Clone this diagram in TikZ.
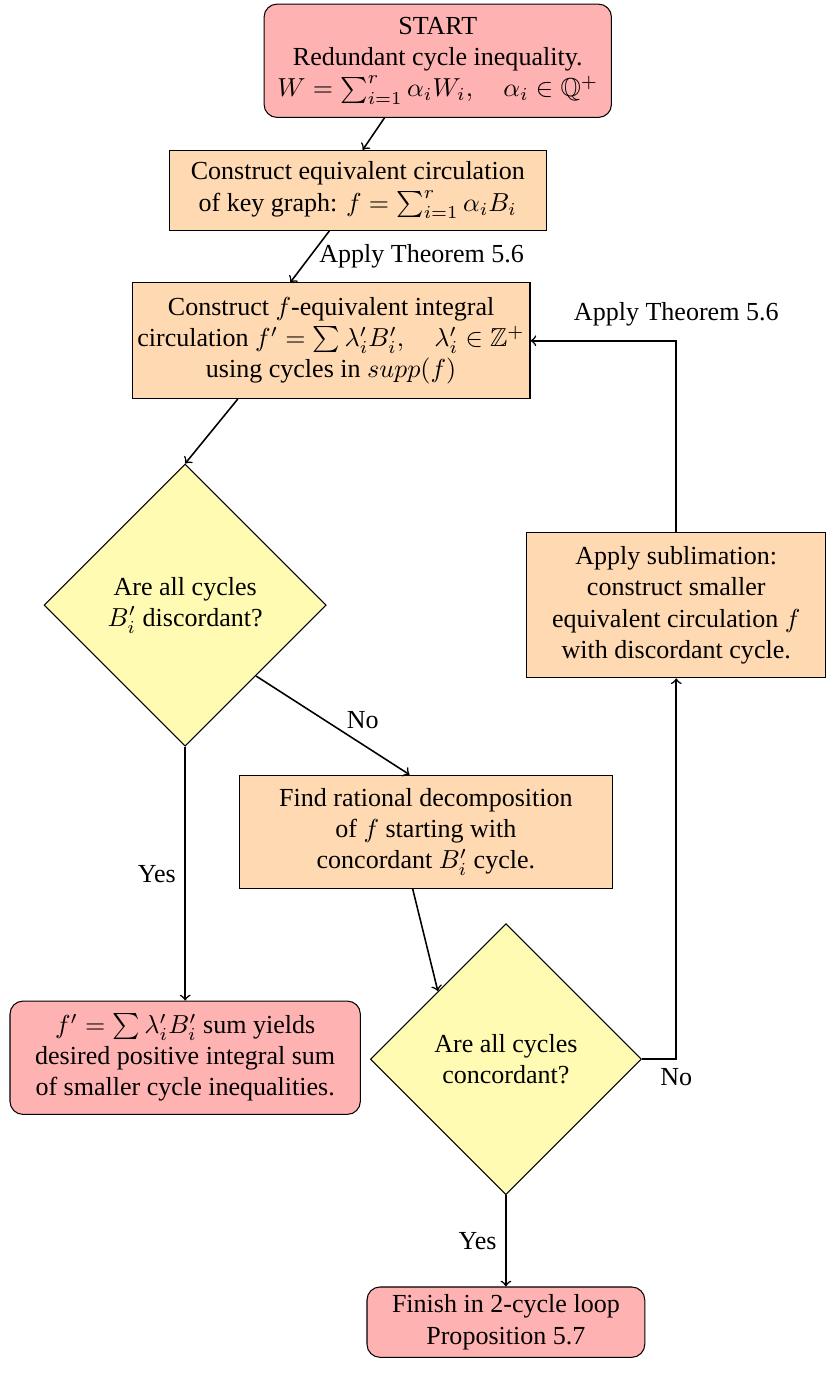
\documentclass[tikz,border=0pt]{standalone}
\usepackage{amsmath, amssymb}
\usepackage{fontspec}
\setmainfont{Liberation Serif}
\usetikzlibrary{shapes.geometric, positioning}

\begin{document}
\begin{tikzpicture}[node distance=2cm, on grid, auto,
    terminal/.style={draw, rounded corners=5pt, fill=red!30, align=center, inner sep=2pt},
    process/.style={draw, fill=orange!30, align=center, inner sep=2pt},
    decision/.style={draw, diamond, fill=yellow!30, align=center, inner sep=0pt},
    link/.style={->, semithick}]
   \useasboundingbox (0,0) rectangle (11.16,-18.55);

   \node[terminal, minimum width=4.69cm, minimum height=1.53cm] (start) at (5.91,-0.82)
      {START\\ Redundant cycle inequality.\\ $W = \sum_{i=1}^r \alpha_i W_i, \quad \alpha_i \in \mathbb{Q}^+$};
   \node[process, minimum width=5.09cm, minimum height=1.08cm] (circ) [below left=1.75cm and 1.08cm of start]
      {Construct equivalent circulation\\ of key graph: $f = \sum_{i=1}^r \alpha_i B_i$};
   \node[process, minimum width=4.62cm, minimum height=1.56cm] (integral) [below left=2.03cm and 0.36cm of circ]
      {Construct $f$-equivalent integral\\ circulation $f' = \sum \lambda'_i B'_i, \quad \lambda'_i \in \mathbb{Z}^+$\\ using cycles in $supp(f)$};
   \node[decision, minimum width=3.81cm, minimum height=3.81cm] (discord) [below left=3.57cm and 1.97cm of integral]
      {Are all cycles\\ $B'_i$ discordant?};
   \node[process, minimum width=4.04cm, minimum height=1.96cm] (sublim) [right=6.63cm of discord]
      {Apply sublimation:\\ construct smaller\\ equivalent circulation $f$\\ with discordant cycle.};
   \node[process, minimum width=5.03cm, minimum height=1.53cm] (ratdec) [below right=3.06cm and 3.25cm of discord]
      {Find rational decomposition\\ of $f$ starting with\\ concordant $B'_i$ cycle.};
   \node[decision, minimum width=3.66cm, minimum height=3.66cm] (concord) [below right=3.07cm and 1.08cm of ratdec]
      {Are all cycles\\ concordant?};
   \node[terminal, minimum width=4.73cm, minimum height=1.53cm] (result) [below=6.11cm of discord]
      {$f' = \sum \lambda'_i B'_i$ sum yields\\ desired positive integral sum\\ of smaller cycle inequalities.};
   \node[terminal, minimum width=3.75cm, minimum height=0.95cm] (finish) [below=3.55cm of concord]
      {Finish in 2-cycle loop\\ Proposition 5.7};

   \path[link]
    (start.227) edge (circ.83)
    (circ.235) edge node[right] {Apply Theorem 5.6} (integral.125)
    (integral.212) edge (discord.north)
    (discord.-45) edge node[pos=0.57, anchor=south west, inner sep=1pt] {No} (ratdec.106)
    (discord.south) edge node[left] {Yes} (result.north)
    (ratdec.257) edge (concord.135)
    (concord.south) edge node[left] {Yes} (finish.north);
   \draw[link] (concord.east) -| node[pos=0.5, below] {No} (sublim.south);
   \draw[link] (sublim.north) |- node[pos=0.5, above=2pt] {Apply Theorem 5.6} (integral.east);
\end{tikzpicture}
\end{document}
